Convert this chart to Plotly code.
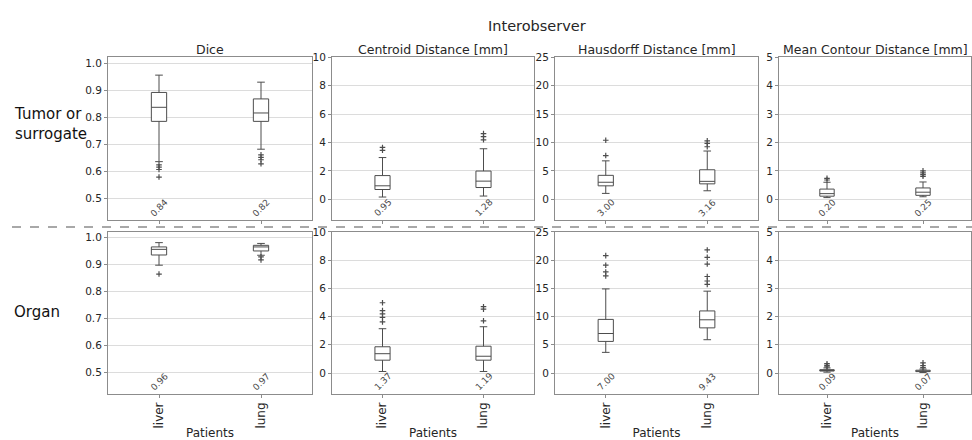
import plotly.graph_objects as go

categories = ["liver", "lung"]
metrics = ["Dice", "Centroid Distance [mm]", "Hausdorff Distance [mm]", "Mean Contour Distance [mm]"]
row_labels = ["Tumor or<br>surrogate", "Organ"]
y_ranges = [[0.42, 1.022], [-1.46, 10], [-3.65, 25], [-0.73, 5]]
y_ticks = [[0.5, 0.6, 0.7, 0.8, 0.9, 1.0], [0, 2, 4, 6, 8, 10], [0, 5, 10, 15, 20, 25], [0, 1, 2, 3, 4, 5]]
y_ticktext = [["0.5", "0.6", "0.7", "0.8", "0.9", "1.0"], ["0", "2", "4", "6", "8", "10"],
              ["0", "5", "10", "15", "20", "25"], ["0", "1", "2", "3", "4", "5"]]

# Tumor or surrogate row: [metric][category]
tumor_lower = [[0.636, 0.682], [0.16, 0.23], [1.04, 1.50], [0.06, 0.09]]
tumor_q1 = [[0.785, 0.785], [0.69, 0.83], [2.37, 2.72], [0.11, 0.14]]
tumor_median = [[0.837, 0.816], [0.95, 1.28], [3.00, 3.16], [0.20, 0.25]]
tumor_q3 = [[0.892, 0.868], [1.67, 1.99], [4.22, 5.20], [0.36, 0.40]]
tumor_upper = [[0.956, 0.930], [2.94, 3.56], [6.77, 8.50], [0.60, 0.61]]
tumor_outliers = [
    [[0.624, 0.616, 0.607, 0.579], [0.661, 0.652, 0.643, 0.628]],
    [[3.65, 3.45], [4.63, 4.42, 4.19]],
    [[10.4, 7.7], [10.3, 9.84, 9.25]],
    [[0.68, 0.74], [0.81, 0.87, 0.93, 1.0]],
]

# Organ row
organ_lower = [[0.898, 0.935], [0.11, 0.11], [3.66, 5.90], [0.03, 0.02]]
organ_q1 = [[0.936, 0.951], [0.91, 0.91], [5.60, 8.00], [0.07, 0.05]]
organ_median = [[0.957, 0.966], [1.37, 1.19], [7.00, 9.43], [0.09, 0.07]]
organ_q3 = [[0.966, 0.972], [1.86, 1.90], [9.50, 11.0], [0.12, 0.10]]
organ_upper = [[0.982, 0.979], [3.14, 3.28], [14.9, 14.5], [0.18, 0.14]]
organ_outliers = [
    [[0.865], [0.929, 0.918]],
    [[4.98, 4.42, 4.19, 3.95, 3.62], [4.70, 4.53, 3.70]],
    [[20.8, 19.1, 17.9, 17.2], [21.8, 20.5, 19.3, 17.1, 16.3, 15.7]],
    [[0.22, 0.27, 0.33], [0.19, 0.26, 0.36]],
]

rows_data = [
    (tumor_lower, tumor_q1, tumor_median, tumor_q3, tumor_upper, tumor_outliers),
    (organ_lower, organ_q1, organ_median, organ_q3, organ_upper, organ_outliers),
]

W, H = 972, 440
col_px = [(108, 312), (332, 534), (555, 758), (779, 971)]
row_px = [(52, 217), (229, 393)]

FONT = "DejaVu Sans"
TXT = "#262626"
LINE = "#4d4d4d"
AX = "#8c8c8c"
GRID = "#dcdcdc"

fig = go.Figure()
layout = dict(
    width=W, height=H,
    margin=dict(l=0, r=0, t=0, b=0),
    paper_bgcolor="white", plot_bgcolor="white",
    showlegend=False,
    font=dict(family=FONT, color=TXT, size=11),
)
annotations = []

for r, (lo, q1, med, q3, up, outl) in enumerate(rows_data):
    for c in range(4):
        k = r * 4 + c + 1
        xa = "x" if k == 1 else f"x{k}"
        ya = "y" if k == 1 else f"y{k}"
        x0, x1 = col_px[c]
        yt, yb = row_px[r]
        layout["xaxis" if k == 1 else f"xaxis{k}"] = dict(
            domain=[x0 / W, x1 / W], anchor=ya, type="category",
            categoryorder="array", categoryarray=categories,
            range=[-0.5, 1.5], showgrid=False, zeroline=False,
            showline=True, linecolor=AX, linewidth=1, mirror=True,
            ticks="outside", ticklen=3, tickcolor=AX,
            showticklabels=(r == 1), tickangle=-90,
            tickfont=dict(size=12, color=TXT),
            title=dict(text="Patients", font=dict(size=12, color=TXT), standoff=2) if r == 1 else None,
        )
        layout["yaxis" if k == 1 else f"yaxis{k}"] = dict(
            domain=[(H - yb) / H, (H - yt) / H], anchor=xa,
            range=y_ranges[c], tickvals=y_ticks[c], ticktext=y_ticktext[c],
            showgrid=True, gridcolor=GRID, gridwidth=1.2, zeroline=False,
            showline=True, linecolor=AX, linewidth=1, mirror=True,
            ticks="outside", ticklen=3, tickcolor=AX,
            tickfont=dict(size=10.5, color=TXT),
        )
        for i, cat in enumerate(categories):
            fig.add_trace(go.Box(
                x=[cat], q1=[q1[c][i]], median=[med[c][i]], q3=[q3[c][i]],
                lowerfence=[lo[c][i]], upperfence=[up[c][i]],
                width=0.15, whiskerwidth=0.5, boxpoints=False,
                fillcolor="white", line=dict(color=LINE, width=1),
                xaxis=xa, yaxis=ya, hoverinfo="skip",
            ))
            fig.add_trace(go.Scatter(
                x=[cat] * len(outl[c][i]), y=outl[c][i], mode="markers",
                marker=dict(symbol="cross-thin", size=4, line=dict(color=LINE, width=1.2)),
                xaxis=xa, yaxis=ya, hoverinfo="skip",
            ))
            annotations.append(dict(
                x=i, y=0.075, xref=xa, yref=f"{ya} domain",
                text=f"{med[c][i]:.2f}", textangle=-45, showarrow=False,
                font=dict(size=9, color="#4a4a4a"), xanchor="center", yanchor="middle",
            ))
        if r == 0:
            annotations.append(dict(
                x=(x0 + x1) / 2 / W, y=(H - 44) / H, xref="paper", yref="paper",
                text=metrics[c], showarrow=False, font=dict(size=12.5, color=TXT),
                xanchor="center", yanchor="middle",
            ))

annotations.append(dict(x=537 / W, y=(H - 20) / H, xref="paper", yref="paper",
                        text="Interobserver", showarrow=False,
                        font=dict(size=14.5, color=TXT), xanchor="center", yanchor="middle"))
annotations.append(dict(x=12 / W, y=(H - 120) / H, xref="paper", yref="paper",
                        text=row_labels[0], showarrow=False, align="left",
                        font=dict(size=15, color="#111111"), xanchor="left", yanchor="middle"))
annotations.append(dict(x=12 / W, y=(H - 310) / H, xref="paper", yref="paper",
                        text=row_labels[1], showarrow=False, align="left",
                        font=dict(size=15, color="#111111"), xanchor="left", yanchor="middle"))

layout["annotations"] = annotations
layout["shapes"] = [dict(type="line", xref="paper", yref="paper",
                         x0=12 / W, x1=1, y0=(H - 224) / H, y1=(H - 224) / H,
                         line=dict(color="#8c8c8c", width=1.5, dash="dash"))]
fig.update_layout(**layout)
fig.write_html("out.html", config={"displayModeBar": False},
               post_script="document.body.style.margin='0px';")
